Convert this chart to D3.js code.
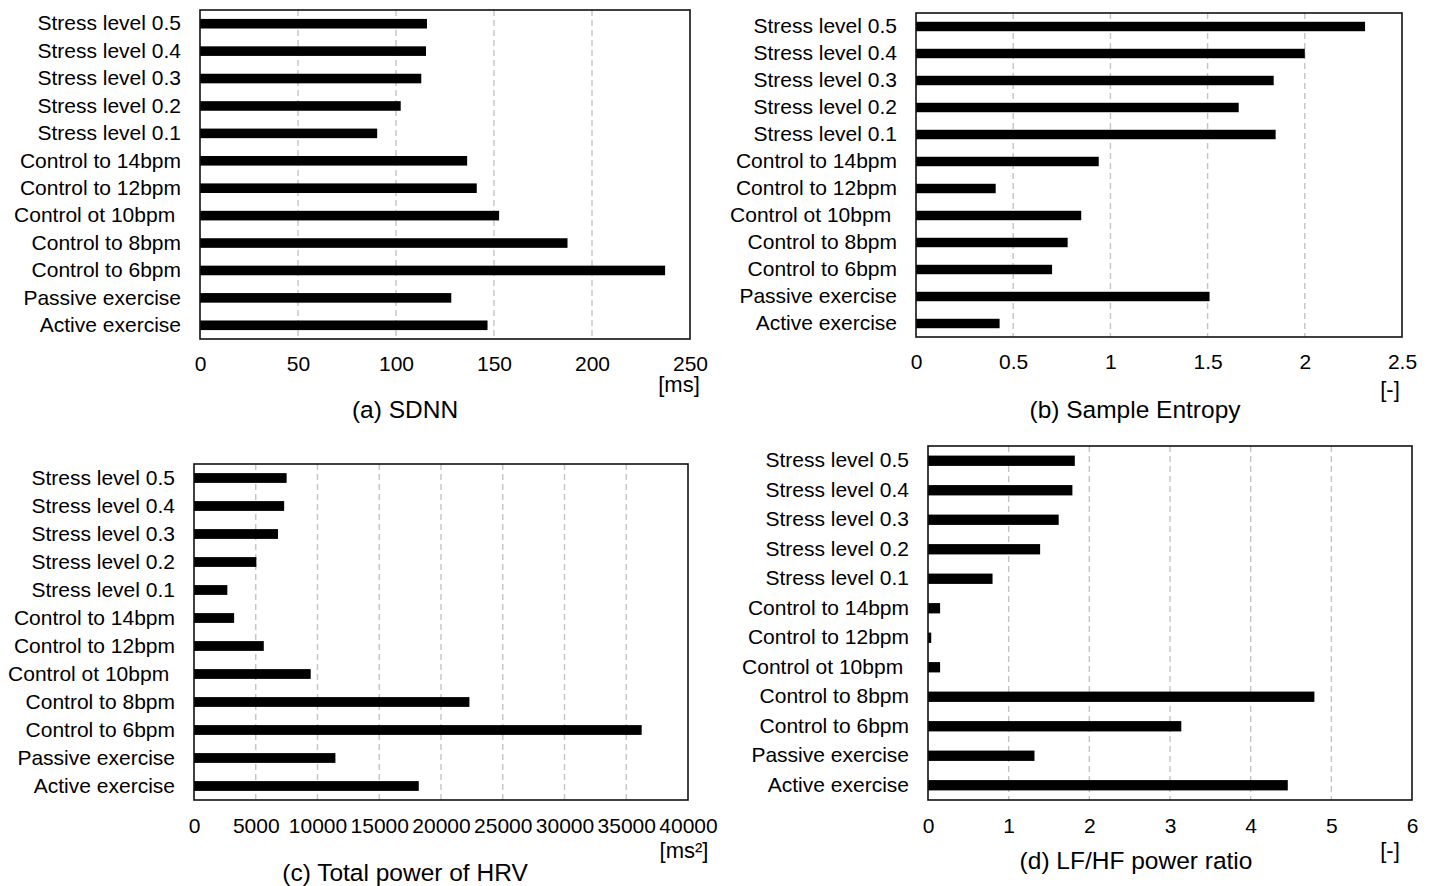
<!DOCTYPE html>
<html>
<head>
<meta charset="utf-8">
<script src="https://cdn.jsdelivr.net/npm/d3@7"></script>
<style>
    body { margin: 0; background: #fff; }
    text { font-family: "Liberation Sans", Arial, sans-serif; fill: #000; }
</style>
</head>
<body>
<svg id="chart" width="1434" height="886"></svg>
<script>
// Conditions, listed top to bottom as in the figure
const categories = [
    "Stress level 0.5", "Stress level 0.4", "Stress level 0.3", "Stress level 0.2",
    "Stress level 0.1", "Control to 14bpm", "Control to 12bpm", "Control ot 10bpm ",
    "Control to 8bpm", "Control to 6bpm", "Passive exercise", "Active exercise"
];

// Values
const sdnn          = [115.8, 115.3, 112.9, 102.4, 90.4, 136.3, 141.2, 152.6, 187.5, 237.3, 128.2, 146.7];
const sampleEntropy = [2.31, 2.0, 1.84, 1.66, 1.85, 0.94, 0.41, 0.85, 0.78, 0.70, 1.51, 0.43];
const totalPower    = [7500, 7300, 6800, 5050, 2700, 3250, 5650, 9450, 22300, 36250, 11450, 18200];
const lfhf          = [1.82, 1.79, 1.62, 1.39, 0.80, 0.15, 0.04, 0.15, 4.79, 3.14, 1.32, 4.46];

// Tick values for each x axis
const sdnnTicks    = [0, 50, 100, 150, 200, 250];
const entropyTicks = [0, 0.5, 1, 1.5, 2, 2.5];
const powerTicks   = [0, 5000, 10000, 15000, 20000, 25000, 30000, 35000, 40000];
const lfhfTicks    = [0, 1, 2, 3, 4, 5, 6];

const svg = d3.select("#chart");

function drawPanel(p)
{
    let width = p.right - p.left,
        height = p.bottom - p.top;

    let g = svg.append("g")
        .attr("transform", "translate(" + p.left + "," + p.top + ")");

    let xScale = d3.scaleLinear()
        .domain([0, p.ticks[p.ticks.length - 1]])
        .range([0, width]);

    let yScale = d3.scaleBand()
        .domain(categories)
        .range([0, height])
        .paddingInner(0.65)
        .paddingOuter(0.325);

    //Dashed grid lines
    g.selectAll(".grid")
        .data(p.ticks.slice(1, -1))
        .enter().append("line")
        .attr("class", "grid")
        .attr("x1", d => xScale(d))
        .attr("x2", d => xScale(d))
        .attr("y1", 0)
        .attr("y2", height)
        .attr("stroke", "#c4c4c4")
        .attr("stroke-width", 1.4)
        .attr("stroke-dasharray", "6,4");

    //Bars
    g.selectAll(".bar")
        .data(p.values)
        .enter().append("rect")
        .attr("class", "bar")
        .attr("x", 0)
        .attr("y", (d, i) => yScale(categories[i]))
        .attr("width", d => xScale(d))
        .attr("height", yScale.bandwidth())
        .attr("fill", "#000");

    //Plot frame
    g.append("rect")
        .attr("width", width)
        .attr("height", height)
        .attr("fill", "none")
        .attr("stroke", "#111")
        .attr("stroke-width", 1.6);

    //Category labels
    let yAxis = g.append("g")
        .call(d3.axisLeft(yScale).tickSize(0).tickPadding(19));
    yAxis.select(".domain").remove();
    yAxis.selectAll("text")
        .attr("font-size", 21)
        .style("white-space", "pre")
        .style("font-family", "Liberation Sans, Arial, sans-serif");

    //Value axis
    let xAxis = g.append("g")
        .attr("transform", "translate(0," + height + ")")
        .call(d3.axisBottom(xScale).tickValues(p.ticks).tickSize(0).tickPadding(p.tickPad).tickFormat(d3.format("")));
    xAxis.select(".domain").remove();
    xAxis.selectAll("text")
        .attr("font-size", 21)
        .style("font-family", "Liberation Sans, Arial, sans-serif");

    //Unit
    svg.append("text")
        .attr("x", p.unitX)
        .attr("y", p.unitY)
        .attr("text-anchor", "middle")
        .attr("font-size", 22)
        .text(p.unit);

    //Caption
    svg.append("text")
        .attr("x", p.titleX)
        .attr("y", p.titleY)
        .attr("text-anchor", "middle")
        .attr("font-size", 24.5)
        .text(p.title);
}

drawPanel({values: sdnn, ticks: sdnnTicks, left: 200, right: 690, top: 10, bottom: 339, tickPad: 17,
           unit: "[ms]", unitX: 679, unitY: 392, title: "(a) SDNN", titleX: 405, titleY: 418});
drawPanel({values: sampleEntropy, ticks: entropyTicks, left: 916, right: 1402, top: 13, bottom: 337, tickPad: 17,
           unit: "[-]", unitX: 1390, unitY: 397, title: "(b) Sample Entropy", titleX: 1135, titleY: 418});
drawPanel({values: totalPower, ticks: powerTicks, left: 194, right: 688, top: 464, bottom: 800, tickPad: 18,
           unit: "[ms²]", unitX: 684, unitY: 858, title: "(c) Total power of HRV", titleX: 405, titleY: 881});
drawPanel({values: lfhf, ticks: lfhfTicks, left: 928, right: 1412, top: 446, bottom: 800, tickPad: 18,
           unit: "[-]", unitX: 1390, unitY: 858, title: "(d) LF/HF power ratio", titleX: 1136, titleY: 869});
</script>
</body>
</html>
